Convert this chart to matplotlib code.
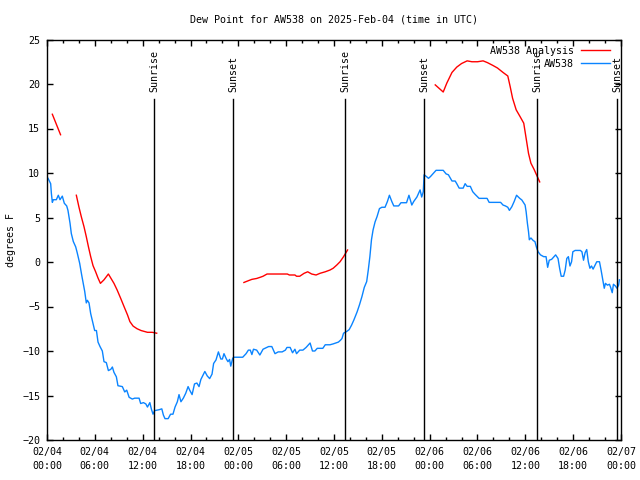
import matplotlib
matplotlib.use("Agg")
import matplotlib.pyplot as plt
from matplotlib.ticker import MultipleLocator
import numpy as np

# ---- data (hours since 2025-02-04 00:00 UTC, dew point in F) ----
obs_a_h = [0.13,0.46,0.55,0.67,0.8,1.17,1.42,1.63,1.92,2.17,2.47,2.63,2.89,3.05,3.3,3.6,3.8,4.1,4.35,4.55,4.73,4.93,5.06,5.27,5.48,5.77,5.98,6.2,6.4,6.65,6.94,7.15,7.44,7.7,8.0,8.2,8.4,8.7,8.9,9.45,9.75,10.0,10.3,10.7,11.0,11.55,11.75,12.1,12.4,12.6,12.9,13.1,13.3,13.5,14.05,14.4,14.6]
obs_a_v = [9.4,8.8,7.7,6.7,7.0,7.0,7.5,7.0,7.4,6.6,6.3,5.8,4.35,3.2,2.3,1.7,1.0,-0.15,-1.46,-2.4,-3.3,-4.6,-4.3,-4.6,-5.8,-6.9,-7.7,-7.7,-9.0,-9.5,-10.0,-11.2,-11.3,-12.2,-12.06,-11.8,-12.4,-12.9,-13.9,-14.0,-14.6,-14.4,-15.2,-15.4,-15.3,-15.3,-15.9,-15.8,-15.95,-16.3,-15.8,-16.55,-17.1,-16.7,-16.6,-16.5,-17.2]
obs_b_h = [14.8,15.2,15.5,15.8,16.06,16.35,16.56,16.8,17.1,17.4,17.7,17.9,18.2,18.5,18.8,19.07,19.3,19.8,20.1,20.4,20.7,20.9,21.2,21.5,21.8,22.0,22.2,22.5,22.7,22.9,23.05,23.3,23.46,24.55]
obs_b_v = [-17.6,-17.6,-17.1,-17.1,-16.3,-15.7,-14.9,-15.7,-15.3,-14.75,-14.0,-14.4,-14.9,-13.7,-13.6,-14.0,-13.2,-12.3,-12.8,-13.1,-12.6,-11.4,-11.0,-10.1,-10.9,-10.9,-10.3,-10.9,-11.2,-10.95,-11.7,-10.8,-10.7,-10.7]
obs_c_h = [24.97,25.26,25.5,25.7,25.9,26.3,26.7,27.1,27.8,28.2,28.6,29.0,29.5,29.9,30.1,30.5,30.8,31.1,31.3,31.7,32.1,32.5,33.0,33.3,33.6,33.9,34.6,34.9,35.5,35.9,36.55,36.8,37.0,37.2,37.6,37.9,38.2,38.5,38.9,39.2,39.5,39.8,40.1,40.3,40.5]
obs_c_v = [-10.3,-9.9,-9.9,-10.4,-9.8,-9.9,-10.45,-9.8,-9.5,-9.5,-10.3,-10.1,-10.1,-9.9,-9.6,-9.6,-10.2,-9.8,-10.3,-9.9,-9.9,-9.6,-9.1,-10.0,-10.0,-9.7,-9.7,-9.3,-9.3,-9.2,-9.0,-8.8,-8.6,-8.0,-7.8,-7.6,-7.1,-6.5,-5.6,-4.8,-3.9,-2.85,-2.2,-0.9,0.6]
obs_d_h = [40.7,40.9,41.15,41.4,41.7,42.0,42.4,42.7,42.95,43.25,43.5,44.1,44.4,45.1,45.4,45.76,46.0,46.4,46.6,46.8,47.0,47.2,47.3,47.6,47.85]
obs_d_v = [2.5,3.6,4.5,5.1,6.0,6.15,6.15,6.8,7.5,6.8,6.3,6.3,6.66,6.66,7.5,6.4,6.8,7.3,7.7,8.1,7.3,7.9,9.8,9.6,9.4]
obs_e_h = [48.1,48.5,48.8,49.7,50.06,50.35,50.8,51.2,51.4,51.7,52.2,52.45,52.7,53.1,53.4,53.7,54.2,54.7,55.2,55.46,56.2,56.9,57.2,57.5,57.8,58.0,58.3,58.6,58.9,59.3,59.56,59.97,60.1,60.26]
obs_e_v = [9.6,10.0,10.3,10.3,9.9,9.8,9.1,9.1,8.8,8.3,8.3,8.8,8.5,8.5,7.9,7.6,7.15,7.15,7.15,6.7,6.7,6.7,6.4,6.3,6.15,5.8,6.2,6.8,7.5,7.15,6.97,6.4,5.65,4.35]
obs_f_h = [60.4,60.5,60.7,61.0,61.2,61.4,61.6,61.9,62.3,62.6,62.8,63.0,63.3,63.8,64.1,64.3,64.5,64.8,65.0,65.2,65.4,65.6,65.8,65.96,66.25,66.9,67.1,67.3,67.5,67.7,67.9,68.1,68.3,68.5,68.96,69.3,69.5,69.7,69.9,70.05,70.3,70.55,70.7,70.9,71.05,71.3,71.5,71.7,71.8]
obs_f_v = [3.4,2.5,2.7,2.4,2.3,1.65,1.15,0.8,0.6,0.6,-0.6,0.2,0.3,0.8,0.4,-0.7,-1.6,-1.6,-0.9,0.4,0.6,-0.45,0.03,1.15,1.3,1.3,1.15,0.2,1.05,1.4,0.03,-0.7,-0.45,-0.8,0.03,0.03,-0.9,-1.9,-2.95,-2.4,-2.6,-2.5,-2.85,-3.45,-2.5,-2.7,-2.95,-2.6,-2.0]

an1_h = [0.67, 1.7]
an1_v = [16.6, 14.3]
an2_h = [3.68,4.0,4.3,4.64,4.93,5.2,5.48,5.77,6.1,6.4,6.7,7.15,7.7,8.0,8.4,8.8,9.25,9.66,10.1,10.4,10.8,11.3,11.8,12.6,13.2,13.76]
an2_v = [7.5,6.2,5.1,3.97,2.84,1.7,0.6,-0.4,-1.1,-1.8,-2.4,-2.0,-1.35,-1.8,-2.4,-3.15,-4.1,-5.0,-5.95,-6.7,-7.2,-7.5,-7.7,-7.9,-7.9,-8.0]
an3_h = [24.7,25.26,25.7,26.3,26.8,27.1,27.6,28.8,30.15,30.4,31.1,31.3,31.7,32.25,32.7,33.2,33.75,34.25,34.9,35.5,35.9,36.35,36.76,37.2,37.5,37.7]
an3_v = [-2.3,-2.1,-1.95,-1.85,-1.7,-1.6,-1.35,-1.35,-1.35,-1.46,-1.46,-1.6,-1.6,-1.27,-1.1,-1.35,-1.46,-1.27,-1.1,-0.9,-0.7,-0.34,0.03,0.6,1.05,1.35]
an4_h = [48.7,49.7,50.15,50.8,51.4,52.0,52.7,53.3,54.0,54.7,55.25,55.9,56.5,57.2,57.8,58.1,58.4,58.85,59.3,59.8,60.1,60.4,60.7,61.1,61.4,61.8]
an4_v = [19.9,19.1,20.1,21.3,21.9,22.3,22.6,22.5,22.5,22.6,22.4,22.1,21.8,21.3,20.9,19.7,18.4,17.1,16.4,15.6,13.9,12.2,11.1,10.4,9.8,9.0]

sun_events_h = [13.42, 23.37, 37.43, 47.35, 61.5, 71.5]
sun_events_lbl = ["Sunrise", "Sunset", "Sunrise", "Sunset", "Sunrise", "Sunset"]

xtick_h = [0, 6, 12, 18, 24, 30, 36, 42, 48, 54, 60, 66, 72]
xtick_lbl = ["02/04\n00:00", "02/04\n06:00", "02/04\n12:00", "02/04\n18:00",
             "02/05\n00:00", "02/05\n06:00", "02/05\n12:00", "02/05\n18:00",
             "02/06\n00:00", "02/06\n06:00", "02/06\n12:00", "02/06\n18:00",
             "02/07\n00:00"]

FONT = "DejaVu Sans Mono"
FS = 7.2
plt.rcParams['font.family'] = FONT
plt.rcParams['font.size'] = FS

fig = plt.figure(figsize=(6.4, 4.8), dpi=100)
ax = fig.add_axes([47/640, 40/480, (621-47)/640, (440-39.5)/480])

red = "#ff0000"
blue = "#0a84ff"
lw = 1.0

first = True
for hh, vv in [(an1_h, an1_v), (an2_h, an2_v), (an3_h, an3_v), (an4_h, an4_v)]:
    ax.plot(hh, vv, color=red, lw=lw, label="AW538 Analysis" if first else None)
    first = False
blue_h = obs_a_h + obs_b_h + obs_c_h + obs_d_h + obs_e_h + obs_f_h
blue_v = obs_a_v + obs_b_v + obs_c_v + obs_d_v + obs_e_v + obs_f_v
ax.plot(blue_h, blue_v, color=blue, lw=lw, label="AW538")

line_top = 0.851
for h, lbl in zip(sun_events_h, sun_events_lbl):
    ax.axvline(h, ymin=0, ymax=line_top, color="black", lw=1.0)
    ax.text(h, 0.869, lbl, transform=ax.get_xaxis_transform(), rotation=90,
            ha="center", va="bottom", fontsize=FS)

ax.set_xlim(0, 72)
ax.set_ylim(-20, 25)
ax.set_xticks(xtick_h)
ax.set_xticklabels(xtick_lbl, linespacing=1.45)
ax.xaxis.set_minor_locator(MultipleLocator(2))
ax.yaxis.set_major_locator(MultipleLocator(5))
ax.tick_params(which="both", direction="in", top=True, right=True, width=1.0)
ax.tick_params(which="major", length=4.5)
ax.tick_params(which="minor", length=2.5)
ax.tick_params(axis="x", pad=5)
ax.tick_params(axis="y", pad=5)
for s in ax.spines.values():
    s.set_linewidth(1.0)

ax.set_ylabel("degrees F", labelpad=4)
ax.set_title("Dew Point for AW538 on 2025-Feb-04 (time in UTC)", pad=12, fontsize=FS)

leg = ax.legend(loc="upper right", bbox_to_anchor=(0.98, 0.985), frameon=False,
                markerfirst=False, handlelength=2.9, handletextpad=0.7,
                labelspacing=0.3, borderpad=0, borderaxespad=0, fontsize=FS)

fig.savefig("out.png", dpi=100)
